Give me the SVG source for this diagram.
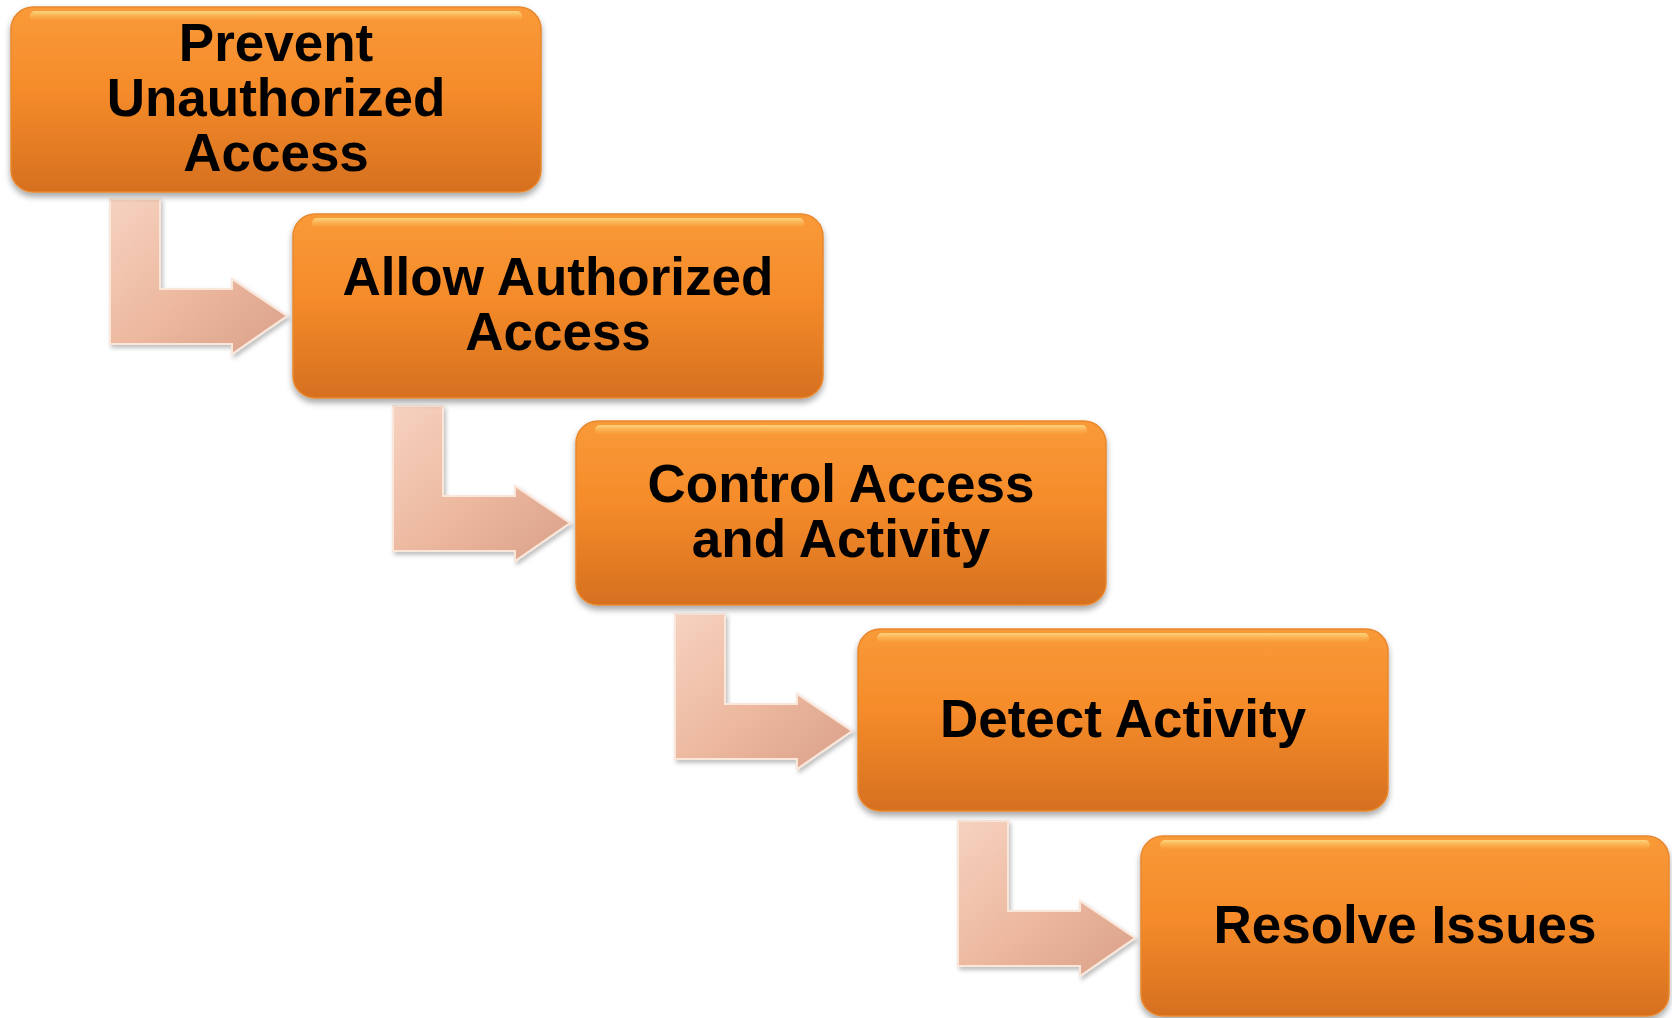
<svg xmlns="http://www.w3.org/2000/svg" width="1672" height="1018" viewBox="0 0 1672 1018">
<defs>
<linearGradient id="boxg" x1="0" y1="0" x2="0" y2="1">
<stop offset="0" stop-color="#F99A38"/>
<stop offset="0.45" stop-color="#F58B2A"/>
<stop offset="1" stop-color="#D6701F"/>
</linearGradient>
<linearGradient id="hl" x1="0" y1="0" x2="0" y2="1">
<stop offset="0" stop-color="#FFE08A" stop-opacity="0.85"/>
<stop offset="1" stop-color="#FFC060" stop-opacity="0"/>
</linearGradient>
<linearGradient id="arrg" x1="0" y1="0" x2="1" y2="1">
<stop offset="0" stop-color="#F6D2C0"/>
<stop offset="0.5" stop-color="#EDB9A0"/>
<stop offset="1" stop-color="#D9A088"/>
</linearGradient>
<filter id="sh" x="-5%" y="-5%" width="110%" height="120%">
<feDropShadow dx="0" dy="4" stdDeviation="3" flood-color="#000" flood-opacity="0.35"/>
</filter>
<filter id="ash" x="-10%" y="-10%" width="125%" height="125%">
<feDropShadow dx="2" dy="3" stdDeviation="2" flood-color="#000" flood-opacity="0.25"/>
</filter>
<path id="arrow" d="M0,0 H50 V90 H122 V80 L177,117 L122,155 V145 H0 Z"/>
</defs>
<style>
.box{fill:url(#boxg);stroke:#E8882E;stroke-width:1.5;filter:url(#sh)}
.hi{fill:url(#hl)}
.lbl{font-family:"Liberation Sans",Arial,sans-serif;font-weight:bold;font-size:53px;fill:#000;text-anchor:middle}
.arr{fill:url(#arrg);stroke:#FBE6DA;stroke-width:2;filter:url(#ash)}
</style>
<rect width="1672" height="1018" fill="#FFFFFF"/>
<g id="connectors">
<use href="#arrow" class="arr" x="110" y="199"/>
<use href="#arrow" class="arr" x="393" y="406"/>
<use href="#arrow" class="arr" x="675" y="614"/>
<use href="#arrow" class="arr" x="958" y="821"/>
</g>
<g id="node1">
<rect class="box" x="11" y="7" width="530" height="185" rx="22"/>
<rect class="hi" x="30" y="11" width="492" height="10" rx="5"/>
<text class="lbl" x="276" y="61">Prevent</text>
<text class="lbl" x="276" y="116">Unauthorized</text>
<text class="lbl" x="276" y="171">Access</text>
</g>
<g id="node2">
<rect class="box" x="293" y="214" width="530" height="184" rx="22"/>
<rect class="hi" x="312" y="218" width="492" height="10" rx="5"/>
<text class="lbl" x="558" y="295">Allow Authorized</text>
<text class="lbl" x="558" y="350">Access</text>
</g>
<g id="node3">
<rect class="box" x="576" y="421" width="530" height="184" rx="22"/>
<rect class="hi" x="595" y="425" width="492" height="10" rx="5"/>
<text class="lbl" x="841" y="502">Control Access</text>
<text class="lbl" x="841" y="557">and Activity</text>
</g>
<g id="node4">
<rect class="box" x="858" y="629" width="530" height="182" rx="22"/>
<rect class="hi" x="877" y="633" width="492" height="10" rx="5"/>
<text class="lbl" x="1123" y="737">Detect Activity</text>
</g>
<g id="node5">
<rect class="box" x="1141" y="836" width="528" height="180" rx="22"/>
<rect class="hi" x="1160" y="840" width="490" height="10" rx="5"/>
<text class="lbl" x="1405" y="943">Resolve Issues</text>
</g>
</svg>
